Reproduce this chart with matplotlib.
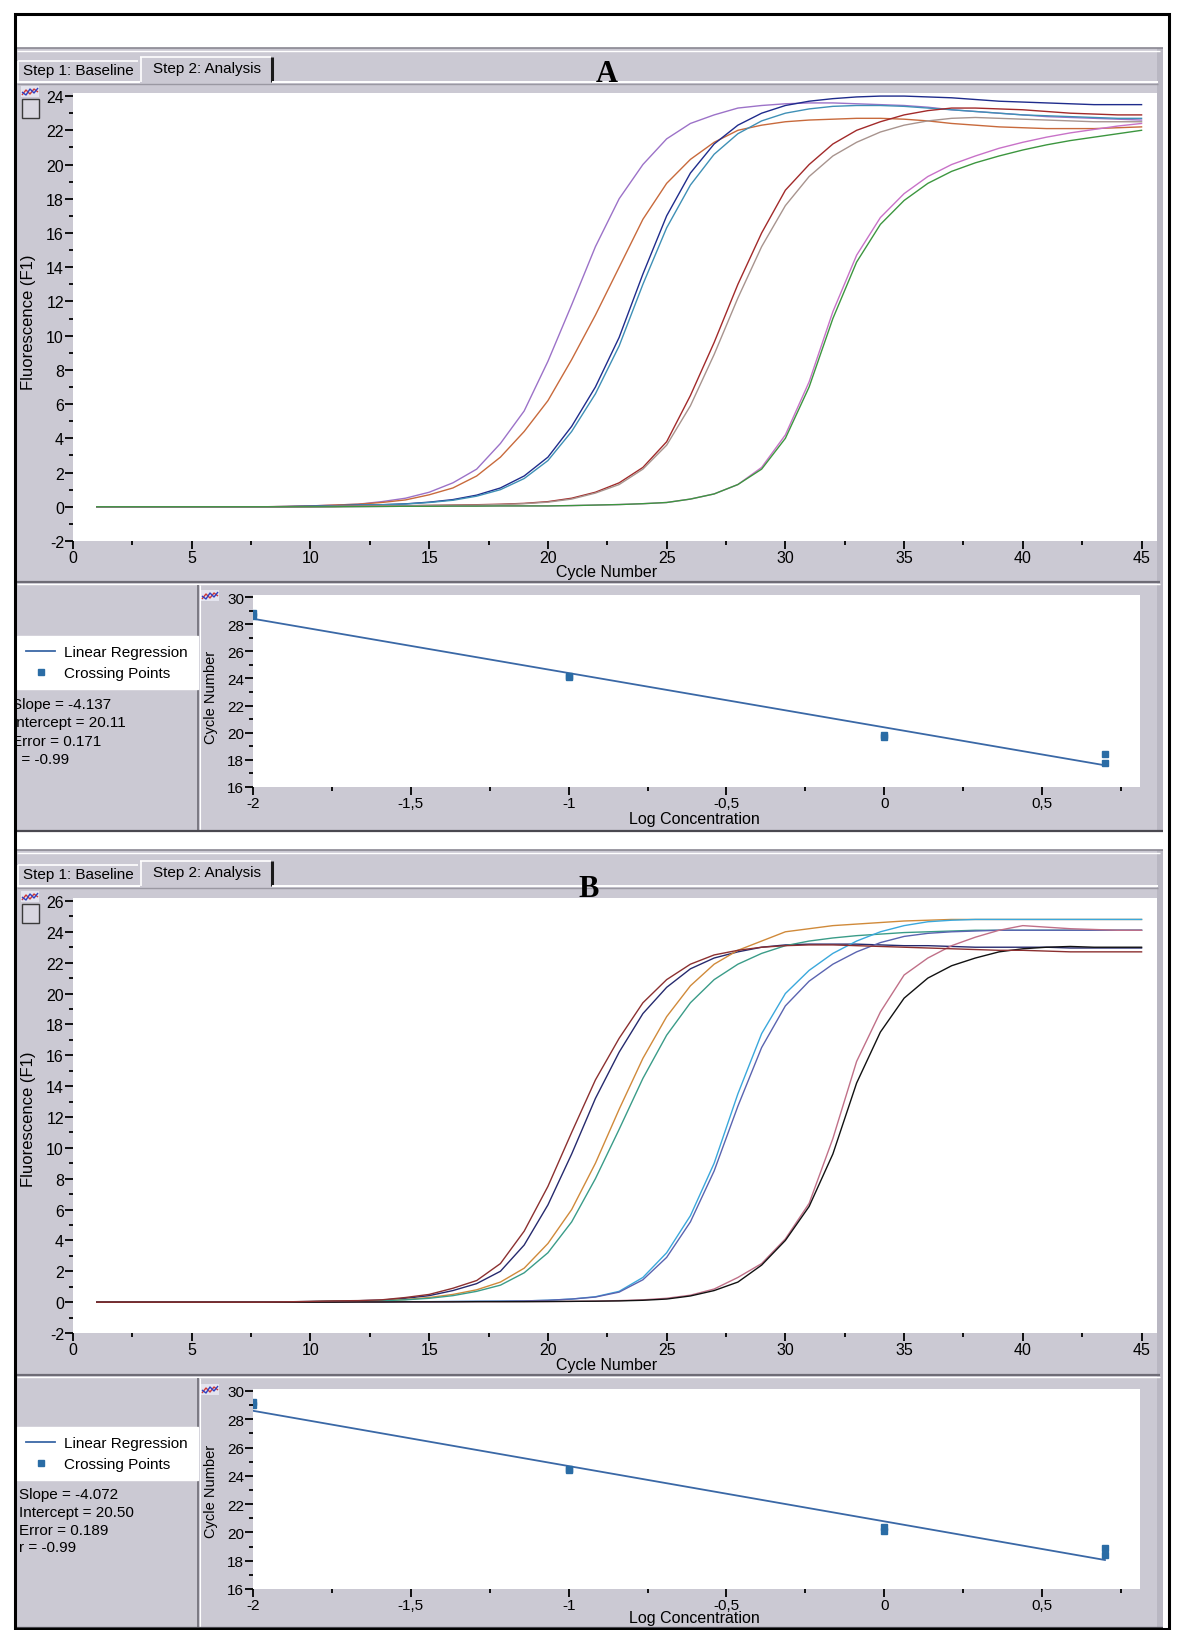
import matplotlib
matplotlib.use("Agg")
import matplotlib.pyplot as plt
from matplotlib import font_manager
from matplotlib.lines import Line2D
from matplotlib.patches import Rectangle
from matplotlib.ticker import MultipleLocator, FuncFormatter

# LightCycler screenshots: amplification curves (A, B) + standard curves

cycles = list(range(1, 46))

# ---- panel A: fluorescence (F1) per cycle ----
a_purple = [0, 0, 0, 0, 0, 0, 0, 0, 0.02, 0.05,
            0.1, 0.15, 0.3, 0.5, 0.85, 1.4, 2.2, 3.7, 5.6, 8.5,
            11.8, 15.2, 18.0, 20.0, 21.5, 22.4, 22.9, 23.3, 23.45, 23.55,
            23.6, 23.6, 23.55, 23.5, 23.45, 23.35, 23.2, 23.1, 23.0, 22.9,
            22.8, 22.75, 22.7, 22.65, 22.6]
a_orange = [0, 0, 0, 0, 0, 0, 0, 0, 0.02, 0.05,
            0.1, 0.15, 0.25, 0.4, 0.7, 1.1, 1.8, 2.9, 4.4, 6.2,
            8.6, 11.2, 14.0, 16.8, 18.9, 20.3, 21.3, 22.0, 22.3, 22.5,
            22.6, 22.65, 22.7, 22.7, 22.65, 22.55, 22.4, 22.3, 22.2, 22.15,
            22.1, 22.1, 22.1, 22.15, 22.2]
a_blue = [0, 0, 0, 0, 0, 0, 0, 0, 0.01, 0.03,
          0.06, 0.1, 0.12, 0.17, 0.27, 0.42, 0.68, 1.1, 1.8, 2.9,
          4.7, 7.0, 9.9, 13.6, 17.0, 19.5, 21.2, 22.3, 23.0, 23.45,
          23.7, 23.85, 23.95, 24.0, 24.0, 23.95, 23.9, 23.8, 23.7, 23.65,
          23.6, 23.55, 23.5, 23.5, 23.5]
a_teal = [0, 0, 0, 0, 0, 0, 0, 0, 0.01, 0.03,
          0.06, 0.1, 0.12, 0.16, 0.25, 0.38, 0.62, 1.0, 1.65, 2.7,
          4.4, 6.6, 9.4, 13.0, 16.3, 18.8, 20.6, 21.8, 22.55, 23.0,
          23.25, 23.4, 23.45, 23.45, 23.4, 23.3, 23.2, 23.1, 23.0, 22.9,
          22.85, 22.8, 22.75, 22.7, 22.7]
a_maroon = [0, 0, 0, 0, 0, 0, 0, 0, 0, 0,
            0.02, 0.04, 0.05, 0.06, 0.08, 0.1, 0.12, 0.15, 0.2, 0.3,
            0.5, 0.85, 1.4, 2.3, 3.8, 6.5, 9.6, 13.0, 16.0, 18.5,
            20.0, 21.2, 22.0, 22.5, 22.9, 23.15, 23.3, 23.3, 23.25, 23.2,
            23.1, 23.0, 22.95, 22.9, 22.9]
a_taupe = [0, 0, 0, 0, 0, 0, 0, 0, 0, 0,
           0.02, 0.04, 0.05, 0.06, 0.08, 0.09, 0.1, 0.13, 0.18, 0.27,
           0.45, 0.8, 1.3, 2.2, 3.6, 5.9, 8.9, 12.2, 15.2, 17.6,
           19.3, 20.5, 21.3, 21.9, 22.3, 22.55, 22.7, 22.75, 22.7, 22.65,
           22.6, 22.55, 22.5, 22.5, 22.5]
a_pink = [0, 0, 0, 0, 0, 0, 0, 0, 0, 0,
          0, 0.01, 0.02, 0.03, 0.03, 0.04, 0.04, 0.05, 0.05, 0.05,
          0.07, 0.1, 0.13, 0.18, 0.25, 0.45, 0.75, 1.3, 2.3, 4.2,
          7.3, 11.4, 14.7, 16.9, 18.3, 19.3, 20.0, 20.5, 20.95, 21.3,
          21.6, 21.85, 22.05, 22.25, 22.4]
a_green = [0, 0, 0, 0, 0, 0, 0, 0, 0, 0,
           0, 0.01, 0.02, 0.03, 0.03, 0.04, 0.04, 0.05, 0.05, 0.05,
           0.07, 0.1, 0.13, 0.18, 0.25, 0.45, 0.75, 1.3, 2.2, 4.0,
           7.0, 11.0, 14.3, 16.5, 17.9, 18.9, 19.6, 20.1, 20.5, 20.85,
           21.15, 21.4, 21.6, 21.8, 22.0]

# ---- panel B ----
b_navy = [0, 0, 0, 0, 0, 0, 0, 0, 0.02, 0.04,
          0.07, 0.09, 0.13, 0.25, 0.42, 0.75, 1.2, 2.0, 3.7, 6.3,
          9.6, 13.2, 16.2, 18.7, 20.4, 21.6, 22.3, 22.7, 23.0, 23.15,
          23.2, 23.2, 23.2, 23.15, 23.1, 23.1, 23.05, 23.0, 23.0, 23.0,
          23.0, 22.95, 22.95, 22.95, 22.95]
b_orange = [0, 0, 0, 0, 0, 0, 0, 0, 0.01, 0.03,
            0.05, 0.07, 0.1, 0.17, 0.3, 0.5, 0.8, 1.3, 2.2, 3.8,
            6.0, 9.0, 12.5, 15.8, 18.5, 20.5, 21.9, 22.8, 23.4, 24.0,
            24.2, 24.4, 24.5, 24.6, 24.7, 24.75, 24.8, 24.8, 24.8, 24.8,
            24.8, 24.8, 24.8, 24.8, 24.8]
b_teal = [0, 0, 0, 0, 0, 0, 0, 0, 0.01, 0.03,
          0.05, 0.07, 0.09, 0.15, 0.25, 0.42, 0.7, 1.1, 1.9, 3.2,
          5.2, 8.0, 11.2, 14.5, 17.3, 19.4, 20.9, 21.9, 22.6, 23.1,
          23.4, 23.6, 23.75, 23.85, 23.95, 24.0, 24.05, 24.1, 24.1, 24.1,
          24.1, 24.1, 24.1, 24.1, 24.1]
b_cyan = [0, 0, 0, 0, 0, 0, 0, 0, 0, 0,
          0.01, 0.02, 0.02, 0.03, 0.03, 0.04, 0.05, 0.06, 0.08, 0.12,
          0.2, 0.35, 0.7, 1.6, 3.2, 5.6, 9.0, 13.5, 17.4, 20.0,
          21.5, 22.6, 23.4, 24.0, 24.4, 24.65, 24.75, 24.8, 24.8, 24.8,
          24.8, 24.8, 24.8, 24.8, 24.8]
b_slate = [0, 0, 0, 0, 0, 0, 0, 0, 0, 0,
           0.01, 0.02, 0.02, 0.03, 0.03, 0.04, 0.05, 0.06, 0.08, 0.12,
           0.2, 0.33, 0.65, 1.45, 2.9, 5.2, 8.5, 12.7, 16.5, 19.2,
           20.8, 21.9, 22.7, 23.3, 23.7, 23.9, 24.0, 24.05, 24.1, 24.1,
           24.1, 24.1, 24.1, 24.1, 24.1]
b_pink = [0, 0, 0, 0, 0, 0, 0, 0, 0, 0,
          0, 0.01, 0.01, 0.02, 0.02, 0.03, 0.03, 0.03, 0.04, 0.04,
          0.05, 0.07, 0.1, 0.15, 0.25, 0.45, 0.85, 1.6, 2.5, 4.1,
          6.4, 10.6, 15.6, 18.8, 21.2, 22.3, 23.1, 23.65, 24.1, 24.4,
          24.3, 24.2, 24.15, 24.1, 24.1]
b_black = [0, 0, 0, 0, 0, 0, 0, 0, 0, 0,
           0, 0.01, 0.01, 0.02, 0.02, 0.02, 0.03, 0.03, 0.03, 0.04,
           0.05, 0.06, 0.08, 0.12, 0.2, 0.4, 0.75, 1.3, 2.4, 4.0,
           6.2, 9.6, 14.2, 17.5, 19.7, 21.0, 21.8, 22.3, 22.7, 22.9,
           23.0, 23.05, 23.0, 23.0, 23.0]
b_maroon = [0, 0, 0, 0, 0, 0, 0, 0, 0.02, 0.05,
            0.08, 0.1, 0.15, 0.3, 0.5, 0.9, 1.4, 2.5, 4.6, 7.5,
            11.0, 14.4, 17.1, 19.4, 20.9, 21.9, 22.5, 22.8, 23.0, 23.1,
            23.15, 23.15, 23.1, 23.05, 23.0, 22.95, 22.9, 22.85, 22.8, 22.8,
            22.75, 22.7, 22.7, 22.7, 22.7]

# ---- standard curves (crossing point vs log concentration) ----
log_conc = [-2, -2, -1, -1, 0, 0, 0.699, 0.699]
a_cp = [28.8, 28.6, 24.2, 24.1, 19.8, 19.7, 18.4, 17.8]
b_cp = [29.2, 29.0, 24.5, 24.4, 20.4, 20.1, 18.9, 18.4]
fit_x = [-2, 0.699]
a_fit = [28.4, 17.6]
b_fit = [28.6, 18.05]
a_stats = ["Slope = -4.137", "Intercept = 20.11", "Error = 0.171", "r = -0.99"]
b_stats = ["Slope = -4.072", "Intercept = 20.50", "Error = 0.189", "r = -0.99"]

a_curves = [(a_purple, "#9c72c8"), (a_orange, "#c86a3c"), (a_blue, "#1f2c8c"),
            (a_teal, "#3f90b6"), (a_maroon, "#a22a2a"), (a_taupe, "#a8948e"),
            (a_pink, "#c872c8"), (a_green, "#3c963f")]
b_curves = [(b_navy, "#262a6e"), (b_orange, "#d08a3a"), (b_teal, "#3a9c88"),
            (b_cyan, "#3aa8dc"), (b_slate, "#5a64b0"), (b_pink, "#c07088"),
            (b_black, "#111111"), (b_maroon, "#8c3030")]

W, H = 1180, 1631
GREY = "#cbc9d3"
REG_LINE = "#3a68a6"
REG_PT = "#2a6ca5"

plt.rcParams["axes.unicode_minus"] = False
plt.rcParams["font.family"] = ["Liberation Sans", "DejaVu Sans"]
names = {f.name for f in font_manager.fontManager.ttflist}
NARROW = "Liberation Sans Narrow" if "Liberation Sans Narrow" in names else "Liberation Sans"

fig = plt.figure(figsize=(W / 100, H / 100), dpi=100)
fig.patch.set_facecolor("white")


def box(x0, y0, x1, y1):
    return [x0 / W, 1 - y1 / H, (x1 - x0) / W, (y1 - y0) / H]


def rect(x0, y0, x1, y1, color, z=-3, edge="none", lw=0):
    fig.add_artist(Rectangle((x0 / W, 1 - y1 / H), (x1 - x0) / W, (y1 - y0) / H,
                             transform=fig.transFigure, facecolor=color,
                             edgecolor=edge, lw=lw, zorder=z))


def seg(xs, ys, color, lw=1.0, z=-1):
    fig.add_artist(Line2D([x / W for x in xs], [1 - y / H for y in ys],
                          transform=fig.transFigure, color=color, lw=lw,
                          zorder=z, solid_capstyle="butt"))


def txt(x, y, s, **kw):
    fig.text(x / W, 1 - y / H, s, **kw)


def icon(x, y):
    rect(x, y, x + 18, y + 11, "#e4e4ee", z=-2)
    seg([x + 1, x + 5, x + 9, x + 13, x + 17], [y + 9, y + 4, y + 8, y + 3, y + 6], "#d03838", 1.0)
    seg([x + 1, x + 5, x + 9, x + 13, x + 17], [y + 6, y + 9, y + 3, y + 7, y + 2], "#3040c0", 1.0)


def style(ax, xmaj, xmin, ymaj, ymin, size, family):
    ax.xaxis.set_major_locator(MultipleLocator(xmaj))
    ax.xaxis.set_minor_locator(MultipleLocator(xmin))
    ax.yaxis.set_major_locator(MultipleLocator(ymaj))
    ax.yaxis.set_minor_locator(MultipleLocator(ymin))
    for s in ax.spines.values():
        s.set_visible(False)
    ax.tick_params(which="both", direction="out", color="black", width=1.3,
                   labelsize=size, pad=1, labelfontfamily=family)
    ax.tick_params(which="major", length=5.5)
    ax.tick_params(which="minor", length=3)


def panel(p, curves, cp, fit, stats, label):
    top, bot = p["top"], p["bottom"]
    rect(17, top, 1163, bot, GREY)
    rect(1157, top, 1163, bot, "#b9b7c2", z=-2.5)
    seg([17, 1163], [top, top], "#8a8892", 1.2)
    seg([17, 1160], [top + 3, top + 3], "white", 1.0)
    # tabs
    ty = p["tabline"]
    seg([18, 138], [ty - 21, ty - 21], "white", 1.2)
    seg([18, 18], [ty - 21, ty], "white", 1.2)
    seg([140, 271], [ty - 25, ty - 25], "white", 1.2)
    seg([141, 141], [ty - 25, ty], "white", 1.2)
    seg([272, 272], [ty - 25, ty], "#1a1a1a", 2.2)
    seg([17, 140], [ty, ty], "white", 1.4)
    seg([272, 1158], [ty, ty], "white", 1.4)
    seg([17, 1158], [ty + 2, ty + 2], "#9a98a2", 1.0)
    txt(23, ty - 12, "Step 1: Baseline", fontsize=11, va="center")
    txt(153, ty - 14, "Step 2: Analysis", fontsize=11, va="center")
    txt(p["label"][0], p["label"][1], label, family=["Liberation Serif"],
        fontweight="bold", fontsize=22, ha="center", va="center")

    # amplification curves
    ax = fig.add_axes(box(*p["main"]))
    ax.set_facecolor("white")
    for vals, c in curves:
        ax.plot(cycles, vals, color=c, lw=1.0)
    ax.set_xlim(0, 45.65)
    ax.set_ylim(*p["ylim"])
    style(ax, 5, 2.5, 2, 1, 11.5, "Liberation Sans")
    txt(607, p["cycle_label"], "Cycle Number", family=[NARROW], fontsize=11.5,
        ha="center", va="center")
    txt(29, p["fluo_label"], "Fluorescence (F1)", family=[NARROW], fontsize=12,
        rotation=90, ha="center", va="center")
    icon(21, p["main"][1] - 7)
    rect(22, p["main"][1] + 6, 39, p["main"][1] + 25, "#d8d6e0", z=-2,
         edge="#3a3a3a", lw=1.0)

    # lower section
    sep = p["sep"]
    seg([17, 1160], [sep, sep], "#6e6c76", 1.6)
    seg([17, 1160], [sep + 2, sep + 2], "white", 1.0)
    seg([198, 198], [sep + 3, bot], "#7a7882", 1.4)
    seg([200, 200], [sep + 3, bot], "white", 0.8)
    seg([17, 1163], [bot, bot], "#4a4850", 1.6)

    axr = fig.add_axes(box(*p["reg"]))
    axr.set_facecolor("white")
    axr.plot(fit_x, fit, color=REG_LINE, lw=1.3)
    axr.plot(log_conc, cp, ls="none", marker="s", ms=5, color=REG_PT)
    axr.set_xlim(-2, 0.81)
    axr.set_ylim(16, p["reg_top"])
    style(axr, 0.5, 0.25, 2, 1, 11, NARROW)
    axr.xaxis.set_major_formatter(FuncFormatter(lambda v, _: f"{v:g}".replace(".", ",")))
    txt(211, p["reg_ylabel"], "Cycle Number", family=[NARROW], fontsize=10.5,
        rotation=90, ha="center", va="center")
    txt(694, p["reg_xlabel"], "Log Concentration", family=[NARROW], fontsize=11.5,
        ha="center", va="center")
    icon(201, p["reg"][1] - 5)

    h1 = Line2D([], [], color=REG_LINE, lw=1.3)
    h2 = Line2D([], [], ls="none", marker="s", ms=5, color=REG_PT)
    lt, lb = p["legend"]
    axr.legend([h1, h2], ["Linear Regression", "Crossing Points"], loc="upper left",
               bbox_to_anchor=(17 / W, 1 - lb / H, 181 / W, (lb - lt) / H),
               bbox_transform=fig.transFigure, mode="expand", borderaxespad=0,
               frameon=True, fancybox=False, edgecolor="white", facecolor="white",
               framealpha=1, fontsize=11, handlelength=1.9, handletextpad=0.55,
               labelspacing=0.45, borderpad=0.6)
    for s, y in zip(stats, p["stats_y"]):
        txt(p["stats_x"], y, s, fontsize=11, va="center")


pA = dict(top=49, bottom=832, tabline=83, label=(607, 75),
          main=(73, 94, 1157, 542), ylim=(-2, 24.18), cycle_label=573, fluo_label=322,
          sep=583, reg=(253, 596, 1140, 788), reg_top=30.15, reg_ylabel=697,
          reg_xlabel=820, legend=(637, 693), stats_y=[705, 723, 742, 760], stats_x=12)
pB = dict(top=851, bottom=1629, tabline=887, label=(589, 890),
          main=(73, 899, 1157, 1334), ylim=(-2, 26.19), cycle_label=1366, fluo_label=1119,
          sep=1376, reg=(253, 1390, 1140, 1590), reg_top=30.14, reg_ylabel=1491,
          reg_xlabel=1619, legend=(1428, 1486), stats_y=[1495, 1513, 1531, 1548], stats_x=19)

panel(pA, a_curves, a_cp, a_fit, a_stats, "A")
panel(pB, b_curves, b_cp, b_fit, b_stats, "B")

# page margin + frame
rect(0, 0, 16, H, "white", z=10)
fig.add_artist(Rectangle((15 / W, 1 - 1630 / H), (1169 - 15) / W, (1630 - 15) / H,
                         transform=fig.transFigure, fill=False, edgecolor="black",
                         lw=2.2, zorder=11))

fig.savefig("out.png", dpi=100)
